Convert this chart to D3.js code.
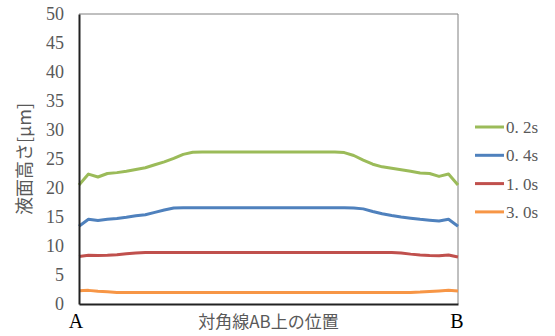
<!DOCTYPE html>
<html><head><meta charset="utf-8">
<script src="https://cdn.jsdelivr.net/npm/d3@7"></script>
<style>body{margin:0;background:#fff}</style>
</head><body>
<svg id="c" width="555" height="336"></svg>
<script>
// position along diagonal AB (%)
const positions = d3.range(0, 100.001, 2.5);
const seriesNames = ["0. 2s", "0. 4s", "1. 0s", "3. 0s"];
const s02 = [20.5,22.4,21.9,22.5,22.65,22.9,23.2,23.5,24.0,24.5,25.1,25.8,26.15,26.2,26.2,26.2,26.2,26.2,26.2,26.2,26.2,26.2,26.2,26.2,26.2,26.2,26.2,26.2,26.1,25.6,24.8,24.1,23.65,23.4,23.15,22.9,22.6,22.5,22.0,22.4,20.5];
const s04 = [13.4,14.6,14.4,14.6,14.75,14.95,15.2,15.4,15.8,16.2,16.55,16.6,16.6,16.6,16.6,16.6,16.6,16.6,16.6,16.6,16.6,16.6,16.6,16.6,16.6,16.6,16.6,16.6,16.6,16.55,16.4,15.95,15.55,15.25,15.0,14.8,14.6,14.45,14.3,14.6,13.4];
const s10 = [8.2,8.4,8.35,8.4,8.5,8.65,8.8,8.9,8.9,8.9,8.9,8.9,8.9,8.9,8.9,8.9,8.9,8.9,8.9,8.9,8.9,8.9,8.9,8.9,8.9,8.9,8.9,8.9,8.9,8.9,8.9,8.9,8.9,8.9,8.8,8.6,8.45,8.35,8.3,8.45,8.1];
const s30 = [2.3,2.35,2.2,2.1,2.0,2.0,2.0,2.0,2.0,2.0,2.0,2.0,2.0,2.0,2.0,2.0,2.0,2.0,2.0,2.0,2.0,2.0,2.0,2.0,2.0,2.0,2.0,2.0,2.0,2.0,2.0,2.0,2.0,2.0,2.0,2.0,2.05,2.15,2.25,2.35,2.25];
const yTicks = [0,5,10,15,20,25,30,35,40,45,50];
const colors = ["#9BBB59","#4F81BD","#C0504D","#F79646"];
const yTitle = "液面高さ[μm]";
const xTitle = "対角線AB上の位置";
const endLabels = ["A","B"];

const svg = d3.select("#c");
const L=79, R=458, T=14, B=304;
const x = d3.scaleLinear().domain([0,100]).range([L,R]);
const y = d3.scaleLinear().domain([0,50]).range([B,T]);

// plot border top/right
svg.append("path").attr("d",`M${L},${T}H${R}V${B}`).attr("fill","none").attr("stroke","#808080").attr("stroke-width",1);

const series=[s02,s04,s10,s30];
const line = d3.line().x((d,i)=>x(positions[i])).y(d=>y(d));
series.forEach((s,k)=>{
  svg.append("path").datum(s).attr("d",line).attr("fill","none")
    .attr("stroke",colors[k]).attr("stroke-width",3).attr("stroke-linejoin","round");
});

// y axis
const ya = svg.append("g").attr("transform",`translate(${L},0)`)
  .call(d3.axisLeft(y).tickValues(yTicks).tickSize(0).tickPadding(15));
ya.select(".domain").attr("stroke","#222").attr("stroke-width",2);
ya.selectAll("text").attr("font-family","'Liberation Serif',serif").attr("font-size",18).attr("fill","#595959");
// x axis line
svg.append("g").attr("transform",`translate(0,${B})`)
  .call(d3.axisBottom(x).tickValues([]).tickSize(0))
  .select(".domain").attr("stroke","#222").attr("stroke-width",2);

svg.append("text").attr("transform",`translate(31,${(T+B)/2}) rotate(-90)`)
  .attr("text-anchor","middle").attr("font-family","'Noto Sans CJK JP',sans-serif")
  .attr("font-size",18).attr("fill","#595959").text(yTitle);
svg.append("text").attr("x",(L+R)/2).attr("y",328).attr("text-anchor","middle")
  .attr("font-family","'Noto Sans CJK JP',sans-serif").attr("font-size",17).attr("fill","#595959").text(xTitle);
svg.selectAll("text.ab").data(endLabels).enter().append("text").attr("class","ab")
  .attr("x",(d,i)=>x(i*100)-3+i*2).attr("y",328).attr("text-anchor","middle")
  .attr("font-family","'Liberation Serif',serif").attr("font-size",20).attr("fill","#000").text(d=>d);

// legend
const lg = svg.append("g");
seriesNames.forEach((n,k)=>{
  const yy = 127 + k*28.3;
  lg.append("line").attr("x1",475).attr("x2",504).attr("y1",yy).attr("y2",yy)
    .attr("stroke",colors[k]).attr("stroke-width",3);
  lg.append("text").attr("x",506).attr("y",yy+6).attr("font-family","'Liberation Serif',serif")
    .attr("font-size",17).attr("fill","#595959").text(n);
});
</script>
</body></html>
